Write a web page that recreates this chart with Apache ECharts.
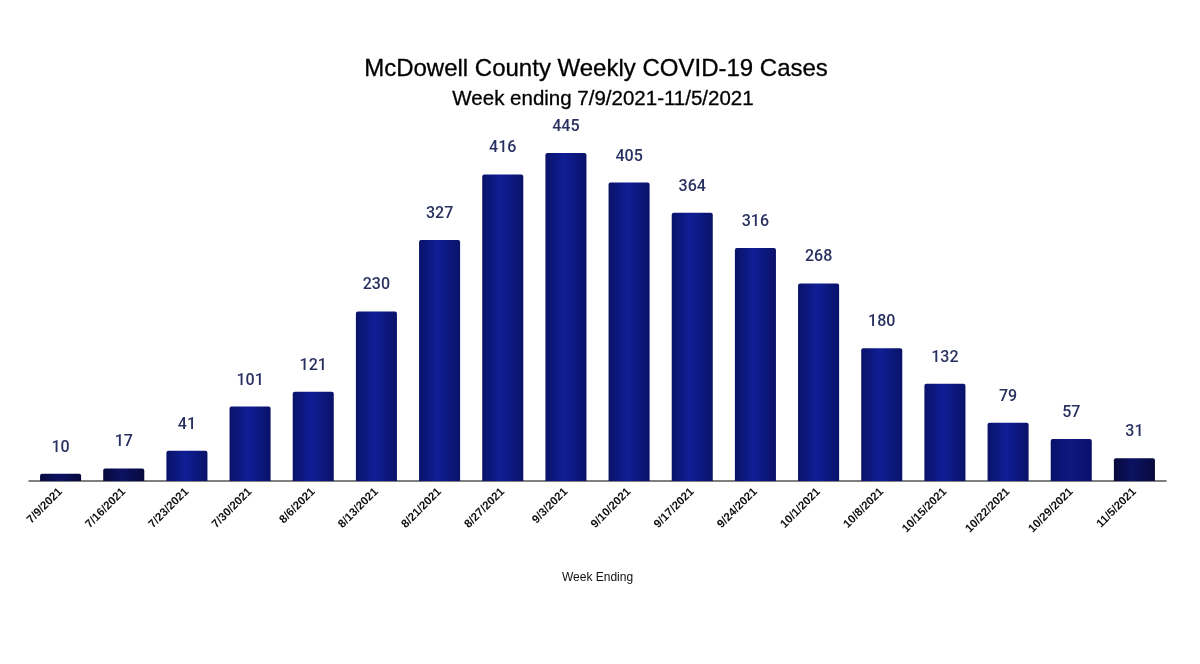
<!DOCTYPE html>
<html><head><meta charset="utf-8">
<script src="https://cdn.jsdelivr.net/npm/echarts@6/dist/echarts.min.js"></script>
<style>html,body{margin:0;padding:0;background:#fff}#c{width:1200px;height:664px}</style>
</head><body><div id="c"></div>
<script>
const categories = ['7/9/2021','7/16/2021','7/23/2021','7/30/2021','8/6/2021','8/13/2021','8/21/2021','8/27/2021','9/3/2021','9/10/2021','9/17/2021','9/24/2021','10/1/2021','10/8/2021','10/15/2021','10/22/2021','10/29/2021','11/5/2021'];
const cases = [10,17,41,101,121,230,327,416,445,405,364,316,268,180,132,79,57,31];

function grad(edge, mid){
  return {type:'linear',x:0,y:0,x2:1,y2:0,colorStops:[{offset:0,color:edge},{offset:0.45,color:mid},{offset:1,color:edge}]};
}
const chart = echarts.init(document.getElementById('c'));
chart.setOption({
  backgroundColor:'#fff',
  title:[
    {text:'McDowell County Weekly COVID-19 Cases',left:591,textAlign:'center',top:52,textStyle:{fontFamily:'Liberation Sans',fontSize:24,fontWeight:'normal',color:'#000',textBorderColor:'#000',textBorderWidth:0.3}},
    {text:'Week ending 7/9/2021-11/5/2021',left:598,textAlign:'center',top:84,textStyle:{fontFamily:'Liberation Sans',fontSize:20.5,fontWeight:'normal',color:'#000',textBorderColor:'#000',textBorderWidth:0.3}}
  ],
  grid:{left:29,right:34,top:112.5,bottom:183},
  xAxis:{type:'category',data:categories,name:'Week Ending',nameLocation:'middle',nameGap:91,
    nameTextStyle:{fontFamily:'Liberation Sans',fontSize:12,color:'#111'},
    axisLine:{lineStyle:{color:'#555',width:1.5}},axisTick:{show:false},
    axisLabel:{rotate:45,interval:0,fontFamily:'Liberation Sans',fontSize:11.5,fontWeight:'bold',color:'#111',margin:9}},
  yAxis:{type:'value',min:0,max:500,show:false,splitLine:{show:false}},
  series:[{type:'bar',data:cases.map((v,i)=>{
      let edge='#0a1268', mid='#0f1e96';
      if(i<2||i==17){edge='#07093c'; mid='#0c1262';}
      else if(i==16){edge='#09106a'; mid='#0e1980';}
      return {value:v,itemStyle:{color:grad(edge,mid)}};
    }),
    barWidth:'65%',
    itemStyle:{borderRadius:[2,2,0,0]},
    label:{show:true,position:'top',distance:18,fontFamily:'Roboto',fontSize:16,fontWeight:500,color:'#283060'}
  }]
});
</script></body></html>
